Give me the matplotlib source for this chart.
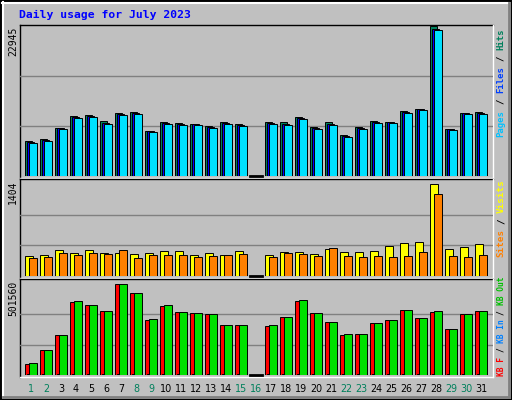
import matplotlib
matplotlib.use("Agg")
import matplotlib.pyplot as plt

days = list(range(1, 32))
weekend_days = [1, 2, 8, 9, 15, 16, 22, 23, 29, 30]

hits = [5355, 5661, 7344, 9180, 9333, 8415, 9639, 9792, 6885, 8262, 8109, 7956, 7650, 8262, 7956, 0,
        8262, 8262, 9027, 7497, 8262, 6273, 7497, 8415, 8262, 9945, 10251, 22945, 7191, 9639, 9792]
files = [5049, 5355, 7191, 8874, 9027, 7956, 9333, 9486, 6732, 7956, 7803, 7803, 7344, 7956, 7650, 0,
         7956, 7803, 8721, 7191, 7803, 5967, 7191, 8109, 8109, 9639, 10098, 22338, 7038, 9486, 9486]
pages = [5200, 5510, 7340, 9030, 9180, 8110, 9490, 9640, 6890, 8110, 7960, 7960, 7500, 8110, 7800, 0,
         8110, 7960, 8870, 7340, 7960, 6120, 7340, 8260, 8260, 9790, 10250, 22490, 7190, 9640, 9640]
visits = [301, 317, 393, 347, 393, 347, 347, 332, 347, 378, 378, 317, 347, 317, 378, 0,
          317, 363, 363, 332, 409, 363, 363, 378, 454, 500, 516, 1404, 409, 439, 485]
sites = [271, 286, 347, 317, 347, 332, 393, 271, 317, 317, 317, 286, 301, 317, 332, 0,
         286, 347, 332, 301, 424, 301, 286, 301, 286, 301, 363, 1250, 301, 286, 317]
kb_f = [60632, 137800, 220480, 402376, 385840, 352768, 501560, 451984, 303160, 380328, 347256, 341744,
        336232, 275600, 275600, 0, 270088, 319696, 407888, 341744, 292136, 220480, 225992, 286624,
        303160, 358280, 314184, 347256, 253552, 336232, 352768]
kb_out = [66144, 137800, 220480, 407888, 385840, 352768, 501560, 451984, 308672, 385840, 347256, 341744,
          336232, 275600, 275600, 0, 275600, 319696, 413400, 341744, 292136, 225992, 225992, 286624,
          303160, 358280, 314184, 352768, 253552, 336232, 352768]
kb_in = [3000 if v else 0 for v in kb_f]

W, H = 512, 400
fig = plt.figure(figsize=(5.12, 4.0), dpi=100)
fig.patch.set_facecolor("#C0C0C0")

# background axes in pixel coordinates for frames and labels
bg = fig.add_axes([0, 0, 1, 1])
bg.set_xlim(0, W)
bg.set_ylim(H, 0)
bg.axis("off")
bg.plot([0.5, W - 0.5, W - 0.5, 0.5, 0.5], [0.5, 0.5, H - 0.5, H - 0.5, 0.5], color="black", lw=1.5)
bg.plot([2, W - 3], [2.5, 2.5], color="white", lw=1.5)
bg.plot([2.5, 2.5], [2, H - 3], color="white", lw=1.5)
bg.plot([3, W - 3], [H - 3.5, H - 3.5], color="#808080", lw=2)
bg.plot([W - 3.5, W - 3.5], [3, H - 3], color="#808080", lw=2)

L, R = 20, 493
for top, bot in [(25, 178), (179, 278), (279, 377)]:
    bg.plot([L, R], [top, top], color="black", lw=1)
    bg.plot([L, L], [top, bot], color="black", lw=1)
    bg.plot([L, R], [bot, bot], color="white", lw=1)
    bg.plot([R, R], [top, bot], color="white", lw=1)

mono = "DejaVu Sans Mono"
bg.text(19, 15, "Daily usage for July 2023", color="#0000FF", fontsize=8.2,
        fontweight="bold", family=mono, va="center", ha="left")


def panel(y_top, y_bot):
    ax = fig.add_axes([L / W, (H - y_bot) / H, (R - L) / W, (y_bot - y_top) / H])
    ax.set_xlim(0, R - L)
    ax.axis("off")
    ax.patch.set_alpha(0)
    return ax


def grid(ax, vmax):
    ax.set_ylim(0, vmax)
    for f in (1 / 3, 2 / 3):
        ax.axhline(vmax * f, color="#808080", lw=1, zorder=0)


ek = dict(edgecolor="black", linewidth=0.7, align="edge", zorder=2)
x0 = [5 + 15 * (d - 1) for d in days]

ax1 = panel(26, 176)
grid(ax1, max(hits))
ax1.bar(x0, hits, width=7, color="#00805C", **ek)
ax1.bar([x + 2 for x in x0], pages, width=7, color="#0000FF", **ek)
ax1.bar([x + 4 for x in x0], files, width=8, color="#00E0FF", **ek)

ax2 = panel(184, 276)
grid(ax2, max(visits))
ax2.bar(x0, visits, width=8, color="#FFFF00", **ek)
ax2.bar([x + 4 for x in x0], sites, width=8, color="#FF8000", **ek)

ax3 = panel(284, 375)
grid(ax3, max(kb_f))
ax3.bar(x0, kb_f, width=8, color="#FF0000", **ek)
ax3.bar([x + 2 for x in x0], kb_in, width=6, color="#0040FF", **ek)
ax3.bar([x + 4 for x in x0], kb_out, width=8, color="#00E000", **ek)

# zero days drawn as a flat black line
for ax in (ax1, ax2, ax3):
    for d, x in zip(days, x0):
        if hits[d - 1] == 0:
            ax.plot([x, x + 12], [0, 0], color="black", lw=2, zorder=3, clip_on=False)

# max value labels on left
for label, y in [(str(max(hits)), 27), (str(max(visits)), 181), (str(max(kb_f)), 281)]:
    bg.text(13, y, label, rotation=90, fontsize=7, family=mono, ha="center", va="top")

# day labels
for d, x in zip(days, x0):
    c = "#00805C" if d in weekend_days else "black"
    bg.text(L + x + 6, 389, str(d), color=c, fontsize=6.9, family="DejaVu Sans",
            ha="center", va="center")


def side_legend(pieces, y_start, y_end):
    # pieces separated by " / ", drawn bottom to top
    words = []
    for i, (t, c) in enumerate(pieces):
        if i:
            words.append(("/", "black", 1))
        words.append((t, c, 0))
    n = sum(len(t) for t, _ in pieces) + 3 * (len(pieces) - 1)
    step = (y_start - y_end) / n
    fs = min(7.0, step / (0.602 * 100 / 72))
    y = y_start
    for t, c, is_sep in words:
        w = step * (3 if is_sep else len(t))
        bg.text(501, y - w / 2, t, rotation=90, color=c, fontsize=fs, family=mono,
                fontweight="bold", ha="center", va="center")
        y -= w


side_legend([("Pages", "#00C0FF"), ("Files", "#0040FF"), ("Hits", "#00805C")], 137, 28)
side_legend([("Sites", "#FF8000"), ("Visits", "#FFFF00")], 257, 179)
side_legend([("KB F", "#FF0000"), ("KB In", "#0080FF"), ("KB Out", "#00C000")], 376, 277)

fig.savefig("out.png", dpi=100, facecolor=fig.get_facecolor())
